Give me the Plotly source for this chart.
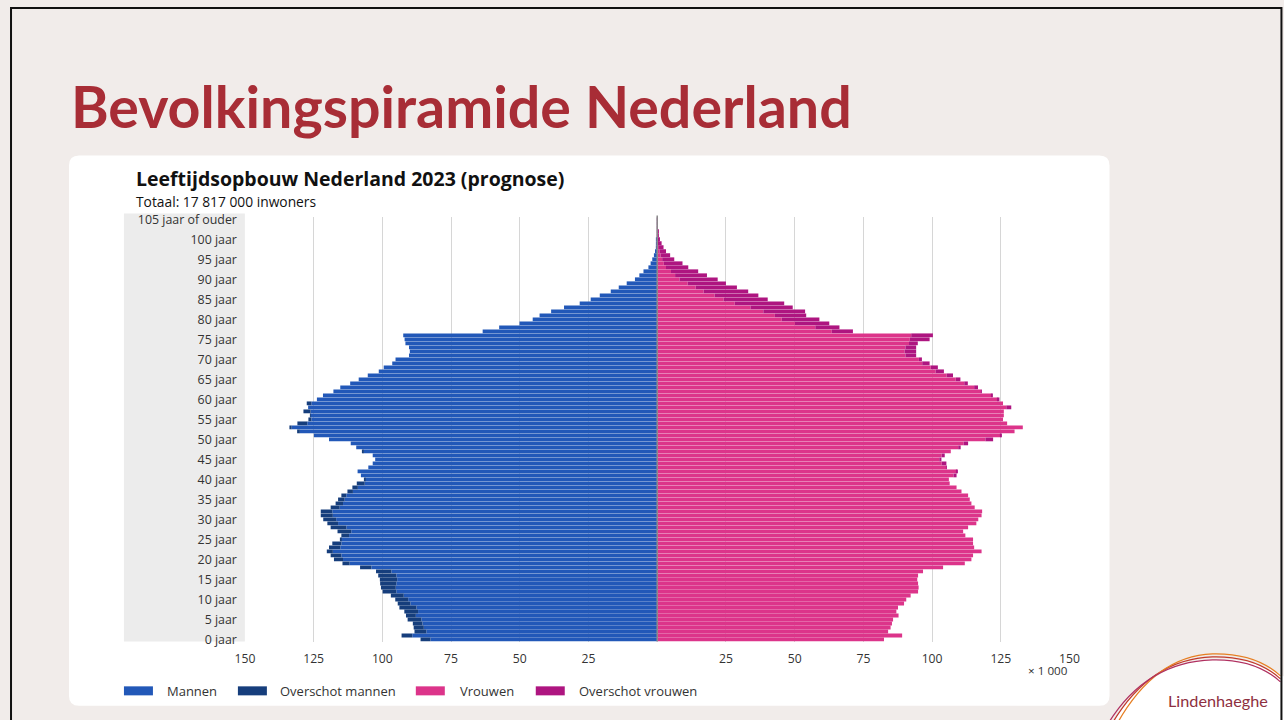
import plotly.graph_objects as go

# Figure size and a calibration that maps reference-picture pixels to figure pixels
# (the rendered page adds a small offset and scale).
W, H = 1296, 728
SX, OX = 0.985, 9.0
SY, OY = 0.9815, 6.6

ages = list(range(106))

men_total = [
    86.1, 93.0, 88.3, 88.6, 88.9, 90.8, 91.4, 92.0, 93.8, 94.4,
    95.3, 96.9, 99.9, 100.5, 100.8, 100.9, 101.5, 102.3, 108.1, 114.5,
    117.6, 118.8, 120.2, 119.4, 118.2, 115.1, 114.9, 116.3, 118.8, 120.0,
    121.5, 122.4, 122.4, 118.8, 117.0, 116.1, 114.9, 112.7, 110.9, 109.3,
    106.6, 107.8, 109.0, 105.1, 103.5, 102.6, 103.5, 107.2, 109.5, 111.5,
    119.4, 124.9, 131.0, 133.8, 130.9, 126.9, 126.3, 128.7, 127.0, 127.5,
    123.8, 121.6, 117.8, 115.3, 111.7, 108.6, 105.3, 101.3, 99.5, 96.4,
    95.2, 90.3, 90.0, 90.3, 91.6, 91.9, 92.4, 63.5, 57.5, 50.1,
    45.3, 42.8, 38.6, 33.9, 28.2, 24.2, 20.9, 16.9, 14.0, 11.1,
    8.1, 6.5, 5.0, 3.2, 2.4, 1.8, 1.2, 0.8, 0.5, 0.3,
    0.2, 0.1, 0.05, 0.03, 0.02, 0.02,
]

women_total = [
    82.5, 89.1, 84.0, 84.9, 85.4, 85.8, 87.8, 87.0, 87.6, 89.8,
    90.6, 92.2, 94.9, 95.1, 94.9, 94.6, 94.9, 96.7, 104.0, 111.9,
    114.3, 114.9, 118.0, 115.3, 114.9, 114.9, 112.1, 111.3, 113.1, 116.1,
    116.8, 118.0, 118.2, 115.5, 114.3, 113.7, 113.1, 110.7, 108.9, 106.4,
    106.1, 108.9, 109.2, 105.2, 105.2, 103.4, 104.6, 106.8, 110.4, 113.1,
    122.2, 125.3, 130.0, 133.0, 127.3, 125.8, 126.1, 126.1, 128.8, 125.8,
    124.5, 122.1, 117.9, 116.7, 113.0, 110.3, 107.6, 104.3, 102.1, 99.1,
    96.3, 94.2, 94.2, 94.2, 94.8, 99.1, 100.3, 71.2, 66.3, 62.6,
    59.0, 54.2, 53.8, 49.3, 46.2, 40.2, 36.8, 33.1, 29.0, 25.0,
    22.0, 18.1, 14.9, 11.3, 9.2, 6.2, 4.7, 3.2, 2.3, 1.6,
    1.0, 0.6, 0.3, 0.2, 0.1, 0.1,
]

x_tick_vals = [-150, -125, -100, -75, -50, -25, 25, 50, 75, 100, 125, 150]
x_tick_text = ["150", "125", "100", "75", "50", "25", "25", "50", "75", "100", "125", "150"]
y_tick_vals = list(range(0, 106, 5))
y_tick_text = [f"{a} jaar" for a in range(0, 105, 5)] + ["105 jaar of ouder"]

legend_labels = ["Mannen", "Overschot mannen", "Vrouwen", "Overschot vrouwen"]
colors = ["#2258b8", "#163e7c", "#dc348a", "#ae1580"]

common = [min(m, w) for m, w in zip(men_total, women_total)]
men_excess = [max(m - w, 0) for m, w in zip(men_total, women_total)]
women_excess = [max(w - m, 0) for m, w in zip(men_total, women_total)]

FONT = "Open Sans"


def px(x):
    return ((x - OX) / SX) / W


def py(y):
    return 1 - ((y - OY) / SY) / H


def fs(s):
    return s / SX


fig = go.Figure()
fig.add_trace(go.Bar(y=ages, x=[-v for v in common], orientation="h", name=legend_labels[0],
                     marker=dict(color=colors[0], line=dict(width=0))))
fig.add_trace(go.Bar(y=ages, x=[-v for v in men_excess], orientation="h", name=legend_labels[1],
                     marker=dict(color=colors[1], line=dict(width=0))))
fig.add_trace(go.Bar(y=ages, x=common, orientation="h", name=legend_labels[2],
                     marker=dict(color=colors[2], line=dict(width=0))))
fig.add_trace(go.Bar(y=ages, x=women_excess, orientation="h", name=legend_labels[3],
                     marker=dict(color=colors[3], line=dict(width=0))))

shapes = []


def rounded(x0, y0, x1, y1, r):
    return (f"M {px(x0 + r)} {py(y0)} L {px(x1 - r)} {py(y0)} Q {px(x1)} {py(y0)} {px(x1)} {py(y0 + r)} "
            f"L {px(x1)} {py(y1 - r)} Q {px(x1)} {py(y1)} {px(x1 - r)} {py(y1)} "
            f"L {px(x0 + r)} {py(y1)} Q {px(x0)} {py(y1)} {px(x0)} {py(y1 - r)} "
            f"L {px(x0)} {py(y0 + r)} Q {px(x0)} {py(y0)} {px(x0 + r)} {py(y0)} Z")


# white card
shapes.append(dict(type="path", xref="paper", yref="paper", path=rounded(68, 155, 1109, 705, 10),
                   fillcolor="white", line=dict(width=0), layer="below"))
# grey label band
shapes.append(dict(type="rect", xref="paper", yref="paper", x0=px(123), x1=px(244), y0=py(640.7), y1=py(213),
                   fillcolor="#ececec", line=dict(width=0), layer="below"))
# centre line
shapes.append(dict(type="line", xref="x", yref="paper", x0=0, x1=0, y0=py(640.7), y1=py(215),
                   line=dict(color="#8a8a8a", width=1.5), layer="above"))

# legend swatches
leg_rect_x = [123, 237, 415, 535]
leg_text_x = [164, 277, 457, 576]
for i in range(4):
    shapes.append(dict(type="rect", xref="paper", yref="paper", x0=px(leg_rect_x[i]), x1=px(leg_rect_x[i] + 29),
                       y0=py(694.5), y1=py(685.5), fillcolor=colors[i], line=dict(width=0)))

# logo area
shapes.append(dict(type="path", xref="paper", yref="paper",
                   path=f"M {px(1112)} {py(722)} Q {px(1152)} {py(660)} {px(1212)} {py(658)} "
                        f"Q {px(1258)} {py(657)} {px(1290)} {py(680)} L {px(1290)} {py(722)} Z",
                   fillcolor="white", line=dict(width=0), layer="below"))
for (c, dx, dy) in [("#c0392b", 0, 0), ("#e67e22", 5, -3), ("#b03060", -4, 3)]:
    shapes.append(dict(type="path", xref="paper", yref="paper",
                       path=f"M {px(1112 + dx)} {py(722)} Q {px(1150 + dx)} {py(658 + dy)} {px(1212)} {py(656 + dy)} "
                            f"Q {px(1255)} {py(655 + dy)} {px(1280)} {py(678 + dy)}",
                       line=dict(color=c, width=1.2)))

# slide border (left, top, right)
shapes.append(dict(type="path", xref="paper", yref="paper",
                   path=f"M 0.0008 0 L 0.0008 0.9986 L {px(1281)} 0.9986 L {px(1281)} 0",
                   line=dict(color="#111111", width=2), layer="above"))

annotations = [
    dict(text="<b>Bevolkingspiramide Nederland</b>", x=px(68), y=py(105), xref="paper", yref="paper",
         xanchor="left", yanchor="middle", showarrow=False,
         font=dict(family="Lato", size=fs(56.5), color="#a82d36")),
    dict(text="<b>Leeftijdsopbouw Nederland 2023 (prognose)</b>", x=px(134), y=py(178.3), xref="paper",
         yref="paper", xanchor="left", yanchor="middle", showarrow=False, borderpad=0,
         font=dict(family=FONT, size=fs(19.2), color="#111111")),
    dict(text="Totaal: 17 817 000 inwoners", x=px(134), y=py(200.6), xref="paper", yref="paper",
         xanchor="left", yanchor="middle", showarrow=False, borderpad=0,
         font=dict(family=FONT, size=fs(13.6), color="#111111")),
    dict(text="× 1 000", x=px(1069), y=py(670), xref="paper", yref="paper",
         xanchor="right", yanchor="middle", showarrow=False,
         font=dict(family=FONT, size=fs(11.5), color="#333333")),
    dict(text="Lindenhaeghe", x=px(1218), y=py(700), xref="paper", yref="paper",
         xanchor="center", yanchor="middle", showarrow=False,
         font=dict(family="Lato", size=fs(16), color="#8e2f40")),
]
for i in range(4):
    annotations.append(dict(text=legend_labels[i], x=px(leg_text_x[i]), y=py(690), xref="paper", yref="paper",
                            xanchor="left", yanchor="middle", showarrow=False,
                            font=dict(family=FONT, size=fs(12.8), color="#333333")))

fig.update_layout(
    width=W, height=H,
    margin=dict(l=0, r=0, t=0, b=0),
    paper_bgcolor="#f1ecea",
    plot_bgcolor="white",
    barmode="relative",
    bargap=0.05,
    showlegend=False,
    hovermode=False,
    shapes=shapes,
    annotations=annotations,
    xaxis=dict(domain=[px(244), px(1069)], range=[-150, 150], tickvals=x_tick_vals, ticktext=x_tick_text,
               showgrid=True, gridcolor="#d6d6d6", gridwidth=1, zeroline=False, showline=False, ticks="",
               ticklabelstandoff=8, tickfont=dict(family=FONT, size=fs(12), color="#333333"), fixedrange=True),
    yaxis=dict(domain=[py(640.7), py(216.7)], range=[-0.5, 105.5], tickvals=y_tick_vals, ticktext=y_tick_text,
               showgrid=False, zeroline=False, showline=False, ticks="", ticklabelstandoff=7,
               tickfont=dict(family=FONT, size=fs(12.2), color="#333333"), fixedrange=True),
)

fig.write_html("out.html", config={"displayModeBar": False})
